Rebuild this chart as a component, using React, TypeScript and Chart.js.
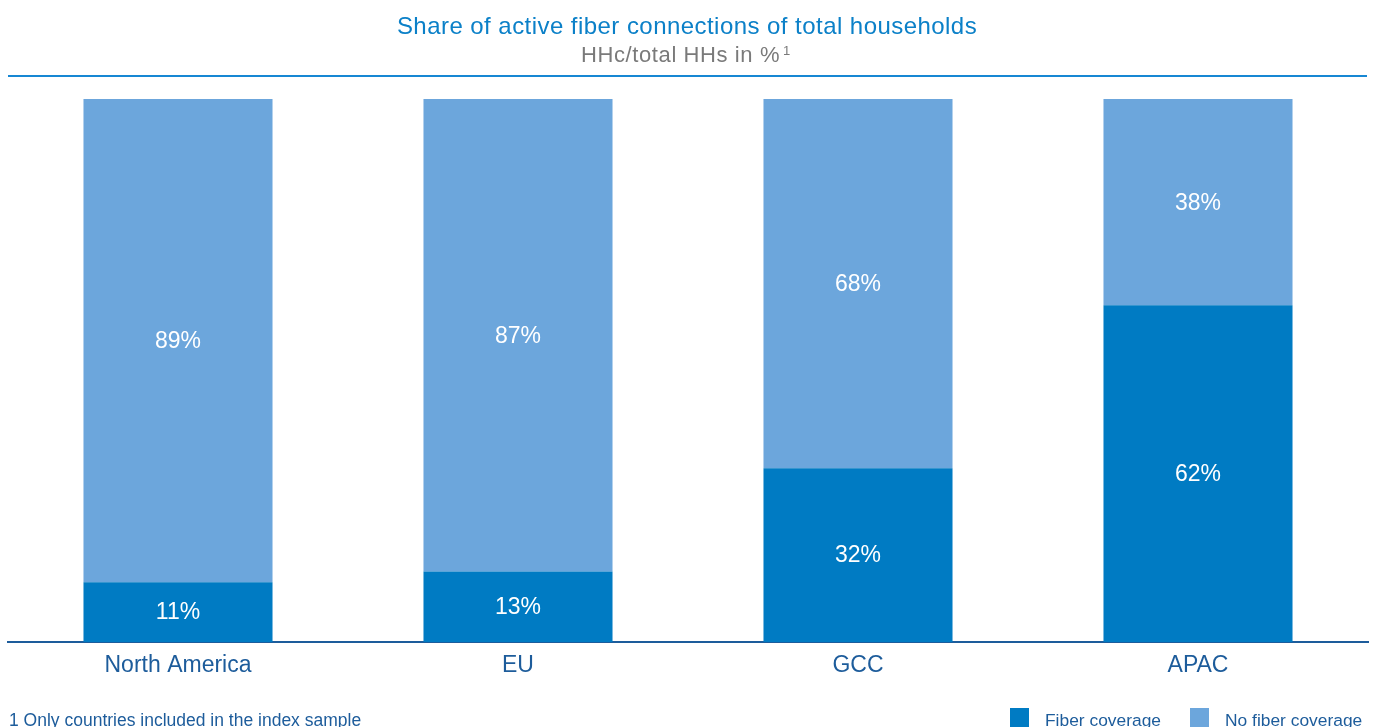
import React, { useEffect, useRef } from "react";
import { Chart, registerables } from "chart.js";

Chart.register(...registerables);

const categories = ["North America", "EU", "GCC", "APAC"];
const fiberCoverage = [11, 13, 32, 62];
const noFiberCoverage = [89, 87, 68, 38];
const seriesLabels = ["Fiber coverage", "No fiber coverage"];
const titleText = "Share of active fiber connections of total households";
const subtitleText = "HHc/total HHs in %";
const footnoteText = "1 Only countries included in the index sample";

const DARK = "#007bc3";
const LIGHT = "#6ca6dc";
const AXIS = "#1d5c9b";
const FONT = "'Liberation Sans', Arial, sans-serif";

const decorPlugin = {
  id: "decor",
  afterDraw(chart: any) {
    const ctx = chart.ctx as any;
    ctx.save();
    ctx.textBaseline = "alphabetic";
    ctx.textAlign = "left";
    // title
    ctx.fillStyle = "#0b80c8";
    ctx.font = `24px ${FONT}`;
    ctx.letterSpacing = "0.45px";
    const tw = ctx.measureText(titleText).width;
    ctx.fillText(titleText, 687 - tw / 2, 34);
    // subtitle with superscript
    ctx.font = `22px ${FONT}`;
    ctx.letterSpacing = "0.6px";
    ctx.fillStyle = "#7a7a7a";
    const w = ctx.measureText(subtitleText).width;
    const startX = 581;
    ctx.fillText(subtitleText, startX, 62);
    ctx.font = `13px ${FONT}`;
    ctx.letterSpacing = "0px";
    ctx.fillText("1", startX + w + 3, 55);
    // top rule
    ctx.strokeStyle = "#1787d3";
    ctx.lineWidth = 2;
    ctx.beginPath();
    ctx.moveTo(8, 76);
    ctx.lineTo(1367, 76);
    ctx.stroke();
    // data labels
    ctx.fillStyle = "#ffffff";
    ctx.font = `23px ${FONT}`;
    ctx.textAlign = "center";
    ctx.textBaseline = "middle";
    chart.data.datasets.forEach((ds: any, di: number) => {
      const meta = chart.getDatasetMeta(di);
      meta.data.forEach((bar: any, i: number) => {
        const p = bar.getProps(["x", "y", "base"], true);
        const cy = (p.y + p.base) / 2;
        ctx.fillText(`${ds.data[i]}%`, p.x, cy + 1);
      });
    });
    // footnote
    ctx.textAlign = "left";
    ctx.textBaseline = "alphabetic";
    ctx.fillStyle = "#1d5c9b";
    ctx.font = `17.5px ${FONT}`;
    ctx.fillText(footnoteText, 9, 726);
    // legend
    const legendX = [1010, 1190];
    chart.data.datasets.forEach((ds: any, di: number) => {
      ctx.fillStyle = ds.backgroundColor;
      ctx.fillRect(legendX[di], 708, 19, 19);
      ctx.fillStyle = "#1d5c9b";
      ctx.font = `17.4px ${FONT}`;
      ctx.fillText(ds.label, legendX[di] + 35, 726);
    });
    ctx.restore();
  },
};

export default function App() {
  const ref = useRef<HTMLCanvasElement>(null);
  useEffect(() => {
    if (!ref.current) return;
    const chart = new Chart(ref.current, {
      type: "bar",
      data: {
        labels: categories,
        datasets: [
          { label: seriesLabels[0], data: fiberCoverage, backgroundColor: DARK, borderWidth: 0 },
          { label: seriesLabels[1], data: noFiberCoverage, backgroundColor: LIGHT, borderWidth: 0 },
        ],
      },
      options: {
        responsive: false,
        animation: false,
        devicePixelRatio: 1,
        layout: { padding: { left: 8, right: 5, top: 99, bottom: 0 } },
        plugins: { legend: { display: false }, title: { display: false }, tooltip: { enabled: false } },
        datasets: { bar: { categoryPercentage: 1, barPercentage: 0.556 } },
        scales: {
          x: {
            stacked: true,
            grid: { display: false, drawTicks: false },
            border: { display: true, color: AXIS, width: 2 },
            ticks: { color: AXIS, font: { family: FONT, size: 23 }, padding: 10 },
            afterFit: (s: any) => { s.height = 85; },
          },
          y: { stacked: true, display: false, min: 0, max: 100 },
        },
      },
      plugins: [decorPlugin],
    });
    return () => chart.destroy();
  }, []);
  return (
    <div style={{ position: "absolute", left: 0, top: 0, width: 1373, height: 727, overflow: "hidden", background: "#fff" }}>
      <canvas ref={ref} width={1373} height={727} style={{ display: "block" }} />
    </div>
  );
}
